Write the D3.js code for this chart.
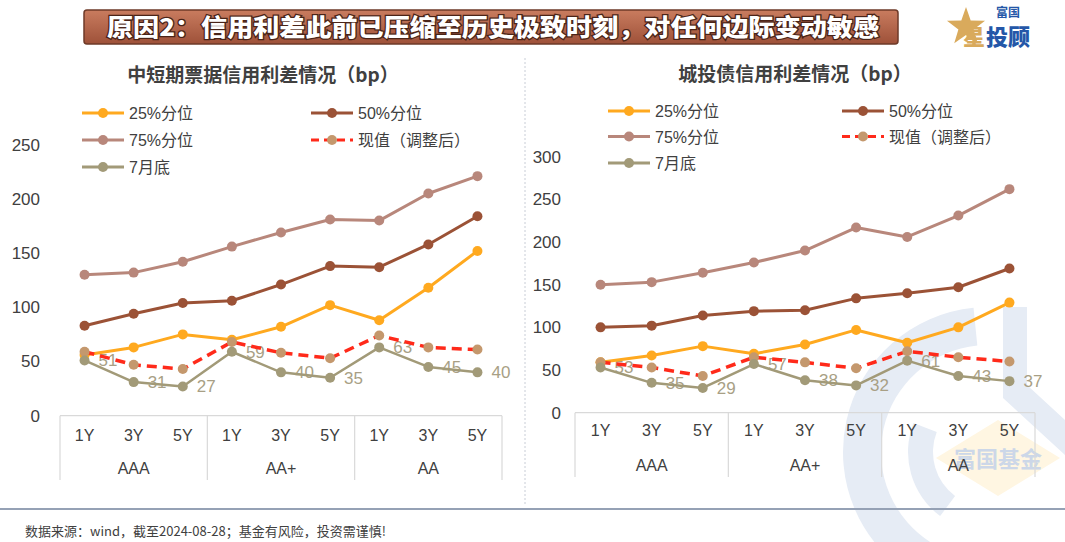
<!DOCTYPE html>
<html><head><meta charset="utf-8">
<script src="https://cdn.jsdelivr.net/npm/d3@7/dist/d3.min.js"></script>
<style>
html,body{margin:0;padding:0;background:#fff;}
svg{display:block;font-family:"Liberation Sans","Noto Sans CJK SC",sans-serif;}
</style></head>
<body>
<svg id="chart" width="1065" height="542"></svg>
<script>
// ---------- data ----------
const groups = ["AAA", "AA+", "AA"];
const tenors = ["1Y", "3Y", "5Y"];
const seriesNames = ["25%分位", "50%分位", "75%分位", "现值（调整后）", "7月底"];

// 中短期票据
const mtn_p25 = [56, 63, 75, 70, 82, 102, 88, 118, 152];
const mtn_p50 = [83, 94, 104, 106, 121, 138, 137, 158, 184];
const mtn_p75 = [130, 132, 142, 156, 169, 181, 180, 205, 221];
const mtn_now = [59, 47, 43, 68, 58, 53, 74, 63, 61];
const mtn_jul = [51, 31, 27, 59, 40, 35, 63, 45, 40];
const mtn_yTicks = [0, 50, 100, 150, 200, 250];

// 城投债
const lgfv_p25 = [59, 67, 78, 69, 80, 97, 82, 100, 129];
const lgfv_p50 = [100, 102, 114, 119, 120, 134, 140, 147, 169];
const lgfv_p75 = [150, 153, 164, 176, 190, 217, 206, 231, 262];
const lgfv_now = [59, 53, 43, 65, 59, 52, 72, 65, 60];
const lgfv_jul = [53, 35, 29, 57, 38, 32, 61, 43, 37];
const lgfv_yTicks = [0, 50, 100, 150, 200, 250, 300];

const mainTitle = "原因2：信用利差此前已压缩至历史极致时刻，对任何边际变动敏感";
const leftTitle = "中短期票据信用利差情况（bp）";
const rightTitle = "城投债信用利差情况（bp）";
const footnote = "数据来源：wind，截至2024-08-28；基金有风险，投资需谨慎!";

// ---------- styles ----------
const colors = {p25: "#FFA91F", p50: "#9B5236", p75: "#B8877B", nowLine: "#FF2A1A", nowDot: "#C4986D", jul: "#A29A78"};
const txt = "#404040";

const svg = d3.select("#chart");
const defs = svg.append("defs");

// ---------- watermark ----------
const wm = svg.append("g").attr("class", "watermark");
const wmArc = d3.arc();
const wmFill = "#E6ECF5";
wm.append("path")
  .attr("transform", "translate(988,452)")
  .attr("d", wmArc({innerRadius: 107, outerRadius: 145, startAngle: -2.6, endAngle: -0.1}))
  .attr("fill", wmFill);
wm.append("path")
  .attr("transform", "translate(988,452)")
  .attr("d", wmArc({innerRadius: 55, outerRadius: 80, startAngle: -2.5, endAngle: -1.2}))
  .attr("fill", wmFill);
wm.append("path")
  .attr("d", "M1003,307 L1027,307 L1027,385 L1065,420 L1065,455 L1003,398 Z")
  .attr("fill", wmFill);
wm.append("path")
  .attr("d", "M998,420 L1060,458 L998,496 L936,458 Z")
  .attr("fill", "#FFF6E2");
wm.append("text").attr("x", 998).attr("y", 467).attr("text-anchor", "middle")
  .attr("font-size", 22).attr("font-weight", "bold").attr("fill", "#CCD7E8")
  .attr("font-family", "Noto Sans CJK SC").text("富国基金");

// ---------- banner ----------
const grad = defs.append("linearGradient").attr("id", "bannerGrad").attr("x1", 0).attr("y1", 0).attr("x2", 0).attr("y2", 1);
grad.append("stop").attr("offset", "0%").attr("stop-color", "#C97C5F");
grad.append("stop").attr("offset", "100%").attr("stop-color", "#9E5139");
svg.append("rect").attr("x", 84).attr("y", 10).attr("width", 814).attr("height", 34).attr("rx", 3)
  .attr("fill", "url(#bannerGrad)").attr("stroke", "#6E3A28").attr("stroke-width", 1.5);
svg.append("text").attr("x", 107).attr("y", 36)
  .attr("font-family", "Noto Sans CJK SC").attr("font-weight", "900").attr("font-size", 24)
  .attr("textLength", 772).attr("lengthAdjust", "spacingAndGlyphs")
  .attr("fill", "#fff").attr("stroke", "#4a2418").attr("stroke-width", 2.5).attr("paint-order", "stroke")
  .text(mainTitle);

// ---------- logo ----------
const starPts = d3.range(10).map(i => {
  const r = i % 2 === 0 ? 20 : 8;
  const a = -Math.PI / 2 + i * Math.PI / 5;
  return [966 + r * Math.cos(a), 27 + r * Math.sin(a)];
});
svg.append("polygon").attr("points", starPts.map(p => p.join(",")).join(" ")).attr("fill", "#D9AA5C");
svg.append("text").attr("x", 996).attr("y", 17).attr("font-family", "Noto Sans CJK SC").attr("font-weight", "bold")
  .attr("font-size", 12).attr("fill", "#2457A8").text("富国");
svg.append("text").attr("x", 963).attr("y", 45).attr("font-family", "Noto Sans CJK SC").attr("font-weight", "900")
  .attr("font-size", 22).attr("fill", "#D9AA5C").text("星");
svg.append("text").attr("x", 986).attr("y", 45).attr("font-family", "Noto Sans CJK SC").attr("font-weight", "900")
  .attr("font-size", 22).attr("fill", "#2457A8").text("投顾");

// ---------- divider & footer ----------
svg.append("line").attr("x1", 525).attr("x2", 525).attr("y1", 58).attr("y2", 505)
  .attr("stroke", "#C8CDD6").attr("stroke-dasharray", "2,2");
svg.append("line").attr("x1", 0).attr("x2", 1065).attr("y1", 509).attr("y2", 509)
  .attr("stroke", "#95A1B5").attr("stroke-width", 2);
svg.append("text").attr("x", 25).attr("y", 536).attr("font-size", 13).attr("fill", txt)
  .attr("font-family", "Noto Sans CJK SC").text(footnote);

// ---------- chart builder ----------
function drawChart(cfg) {
  const keys = [];
  groups.forEach(g => tenors.forEach(t => keys.push(g + "|" + t)));
  const x = d3.scaleBand().domain(keys).range([cfg.x0, cfg.x1]);
  const y = d3.scaleLinear().domain([0, cfg.yMax]).range([cfg.yBase, cfg.yTop]);
  const g = svg.append("g");

  // title
  g.append("text").attr("x", cfg.titleX).attr("y", cfg.titleY).attr("text-anchor", "middle")
    .attr("font-family", "Noto Sans CJK SC").attr("font-weight", "bold").attr("font-size", 19)
    .attr("fill", txt).text(cfg.title);

  // y axis
  const ya = g.append("g").attr("transform", `translate(${cfg.x0},0)`)
    .call(d3.axisLeft(y).tickValues(cfg.yTicks).tickSize(0).tickPadding(cfg.yPad));
  ya.select(".domain").remove();
  ya.selectAll("text").attr("font-size", 17).attr("fill", txt).attr("font-family", "Liberation Sans");

  // x axis
  const xa = g.append("g").attr("transform", `translate(0,${cfg.yBase})`)
    .call(d3.axisBottom(x).tickSize(0).tickPadding(cfg.tenorPad).tickFormat(d => d.split("|")[1]));
  xa.select(".domain").remove();
  xa.selectAll("text").attr("font-size", 16).attr("fill", txt).attr("font-family", "Liberation Sans");
  g.append("line").attr("x1", cfg.x0).attr("x2", cfg.x1).attr("y1", cfg.yBase).attr("y2", cfg.yBase)
    .attr("stroke", "#D9D9D9").attr("stroke-width", 1.2);
  const bw = x.bandwidth();
  groups.forEach((gr, i) => {
    const xs = x(gr + "|" + tenors[0]);
    g.append("line").attr("x1", xs).attr("x2", xs).attr("y1", cfg.yBase).attr("y2", cfg.sepBottom)
      .attr("stroke", "#D9D9D9").attr("stroke-width", 1.2);
    g.append("text").attr("x", xs + bw * 1.5).attr("y", cfg.groupY).attr("text-anchor", "middle")
      .attr("font-size", 16).attr("fill", txt).attr("font-family", "Liberation Sans").text(gr);
  });
  g.append("line").attr("x1", cfg.x1).attr("x2", cfg.x1).attr("y1", cfg.yBase).attr("y2", cfg.sepBottom)
    .attr("stroke", "#D9D9D9").attr("stroke-width", 1.2);

  const cx = i => x(keys[i]) + bw / 2;
  const line = d3.line().x((d, i) => cx(i)).y(d => y(d));

  // data labels for 7月底 (drawn beneath lines)
  g.append("g").selectAll("text").data(cfg.jul).join("text")
    .attr("x", (d, i) => cx(i) + 14).attr("y", d => y(d) + 6)
    .attr("font-size", 17).attr("fill", "#A89F85").attr("font-family", "Liberation Sans")
    .text(d => d);

  const series = [
    {v: cfg.p75, c: colors.p75, dot: colors.p75, w: 3, r: 5},
    {v: cfg.p50, c: colors.p50, dot: colors.p50, w: 3, r: 5},
    {v: cfg.p25, c: colors.p25, dot: colors.p25, w: 3, r: 5},
    {v: cfg.now, c: colors.nowLine, dot: colors.nowDot, w: 3.5, r: 5, dash: "10,6"},
    {v: cfg.jul, c: colors.jul, dot: colors.jul, w: 2.5, r: 5}
  ];
  series.forEach(s => {
    g.append("path").datum(s.v).attr("d", line).attr("fill", "none")
      .attr("stroke", s.c).attr("stroke-width", s.w).attr("stroke-dasharray", s.dash || null)
      .attr("stroke-linejoin", "round");
    g.append("g").selectAll("circle").data(s.v).join("circle")
      .attr("cx", (d, i) => cx(i)).attr("cy", d => y(d)).attr("r", s.r).attr("fill", s.dot);
  });

  // legend
  const leg = [
    {name: seriesNames[0], c: colors.p25, dot: colors.p25, col: 0, row: 0},
    {name: seriesNames[1], c: colors.p50, dot: colors.p50, col: 1, row: 0},
    {name: seriesNames[2], c: colors.p75, dot: colors.p75, col: 0, row: 1},
    {name: seriesNames[3], c: colors.nowLine, dot: colors.nowDot, col: 1, row: 1, dash: "8,5"},
    {name: seriesNames[4], c: colors.jul, dot: colors.jul, col: 0, row: 2}
  ];
  leg.forEach(l => {
    const lx = cfg.legX[l.col], ly = cfg.legY[l.row];
    g.append("line").attr("x1", lx).attr("x2", lx + 42).attr("y1", ly).attr("y2", ly)
      .attr("stroke", l.c).attr("stroke-width", 3).attr("stroke-dasharray", l.dash || null);
    g.append("circle").attr("cx", lx + 21).attr("cy", ly).attr("r", 5).attr("fill", l.dot);
    g.append("text").attr("x", lx + 47).attr("y", ly + 6).attr("font-size", 16).attr("fill", txt)
      .attr("font-family", "Liberation Sans, Noto Sans CJK SC").text(l.name);
  });
}

drawChart({
  x0: 60, x1: 502, yBase: 415.7, yTop: 144.7, yMax: 250, yTicks: mtn_yTicks, yPad: 20,
  tenorPad: 14, groupY: 474, sepBottom: 480,
  title: leftTitle, titleX: 263, titleY: 82,
  legX: [82, 311], legY: [113, 140, 167],
  p25: mtn_p25, p50: mtn_p50, p75: mtn_p75, now: mtn_now, jul: mtn_jul
});

drawChart({
  x0: 575, x1: 1035, yBase: 412.7, yTop: 156.7, yMax: 300, yTicks: lgfv_yTicks, yPad: 14,
  tenorPad: 12, groupY: 471, sepBottom: 477,
  title: rightTitle, titleX: 795, titleY: 81,
  legX: [608, 842], legY: [111, 136.5, 163],
  p25: lgfv_p25, p50: lgfv_p50, p75: lgfv_p75, now: lgfv_now, jul: lgfv_jul
});
</script>
</body></html>
